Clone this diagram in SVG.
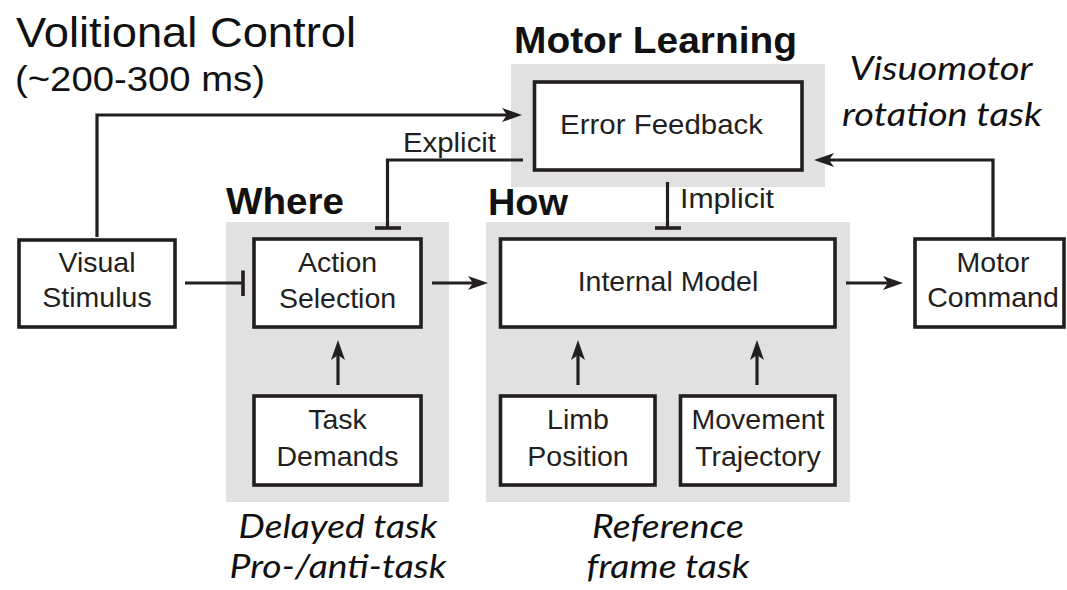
<svg xmlns="http://www.w3.org/2000/svg" width="1067" height="590" viewBox="0 0 1067 590">
  <style>
    .panel { fill: #e1e1e1; stroke: none; }
    .box { fill: #ffffff; stroke: #231f20; stroke-width: 3.6; }
    .lbl { font-family: "Liberation Sans", Arial, Helvetica, sans-serif; font-size: 28.5px; fill: #231f20; text-anchor: middle; }
    .small { font-family: "Liberation Sans", Arial, Helvetica, sans-serif; font-size: 27px; fill: #231f20; }
    .head { font-family: "Liberation Sans", Arial, Helvetica, sans-serif; font-size: 36px; font-weight: bold; fill: #111111; }
    .title { font-family: "Liberation Sans", Arial, Helvetica, sans-serif; fill: #111111; }
    .task { font-family: Lato, "Liberation Sans", sans-serif; font-style: italic; font-size: 33px; fill: #111111; text-anchor: middle; }
    .wire { fill: none; stroke: #231f20; stroke-width: 3.2; }
    .arrow { marker-end: url(#head); }
    .bar { fill: none; stroke: #231f20; stroke-width: 3.6; }
  </style>
  <defs>
    <marker id="head" markerUnits="userSpaceOnUse" viewBox="0 -8 21 16" markerWidth="21" markerHeight="16" refX="12" refY="0" orient="auto">
      <path d="M20,0 L0,-7 L5,0 L0,7 Z" fill="#231f20"/>
    </marker>
  </defs>

  <rect width="1067" height="590" fill="#ffffff"/>

  <!-- headings -->
  <g id="title">
    <text class="title" x="16" y="47" font-size="42" textLength="340" lengthAdjust="spacingAndGlyphs">Volitional Control</text>
    <text class="title" x="15" y="91" font-size="35" textLength="250" lengthAdjust="spacingAndGlyphs">(~200-300 ms)</text>
  </g>

  <!-- grey stage panels -->
  <g id="motor-learning">
    <rect class="panel" x="511" y="64" width="314" height="123"/>
    <text class="head" x="514" y="53" textLength="283" lengthAdjust="spacingAndGlyphs">Motor Learning</text>
  </g>
  <g id="where">
    <rect class="panel" x="226" y="222" width="223" height="280"/>
    <text class="head" x="226" y="214" textLength="118" lengthAdjust="spacingAndGlyphs">Where</text>
  </g>
  <g id="how">
    <rect class="panel" x="486" y="222" width="364" height="280"/>
    <text class="head" x="488" y="215" textLength="80" lengthAdjust="spacingAndGlyphs">How</text>
  </g>

  <!-- task annotations -->
  <g id="task-visuomotor">
    <text class="task" x="941" y="80" textLength="183" lengthAdjust="spacingAndGlyphs">Visuomotor</text>
    <text class="task" x="942" y="126" textLength="200" lengthAdjust="spacingAndGlyphs">rotation task</text>
  </g>
  <g id="task-delayed">
    <text class="task" x="338" y="538" textLength="199" lengthAdjust="spacingAndGlyphs">Delayed task</text>
    <text class="task" x="338" y="578" textLength="217" lengthAdjust="spacingAndGlyphs">Pro-/anti-task</text>
  </g>
  <g id="task-reference">
    <text class="task" x="668" y="538" textLength="152" lengthAdjust="spacingAndGlyphs">Reference</text>
    <text class="task" x="668" y="578" textLength="163" lengthAdjust="spacingAndGlyphs">frame task</text>
  </g>

  <!-- connectors -->
  <g id="connectors">
    <path class="wire arrow" d="M97,237 V115 H514"/>
    <path class="wire" d="M523,160 H387.5 V228"/>
    <path class="bar" d="M375,228 H401"/>
    <text class="small" x="403" y="152" textLength="93" lengthAdjust="spacingAndGlyphs">Explicit</text>
    <path class="wire" d="M667.5,182 V228"/>
    <path class="bar" d="M655,228 H681"/>
    <text class="small" x="680" y="208" textLength="94" lengthAdjust="spacingAndGlyphs">Implicit</text>
    <path class="wire" d="M185,283 H243"/>
    <path class="bar" d="M243,270.5 V296"/>
    <path class="wire arrow" d="M432,283 H480"/>
    <path class="wire arrow" d="M846,283 H895"/>
    <path class="wire arrow" d="M993,237 V160 H822"/>
    <path class="wire arrow" d="M338,385 V348"/>
    <path class="wire arrow" d="M578,385 V348"/>
    <path class="wire arrow" d="M757,385 V348"/>
  </g>

  <!-- boxes -->
  <g id="error-feedback">
    <rect class="box" x="534.5" y="82" width="267.5" height="88"/>
    <text class="lbl" x="661.5" y="134" textLength="203" lengthAdjust="spacingAndGlyphs">Error Feedback</text>
  </g>
  <g id="visual-stimulus">
    <rect class="box" x="19" y="240" width="156" height="87"/>
    <text class="lbl" x="97" y="272">Visual</text>
    <text class="lbl" x="97" y="307">Stimulus</text>
  </g>
  <g id="action-selection">
    <rect class="box" x="254" y="239" width="167" height="88"/>
    <text class="lbl" x="337.5" y="272">Action</text>
    <text class="lbl" x="337.5" y="308">Selection</text>
  </g>
  <g id="task-demands">
    <rect class="box" x="254" y="396" width="167" height="89"/>
    <text class="lbl" x="337.5" y="429">Task</text>
    <text class="lbl" x="337.5" y="466">Demands</text>
  </g>
  <g id="internal-model">
    <rect class="box" x="500.5" y="239" width="334.5" height="88"/>
    <text class="lbl" x="668" y="291">Internal Model</text>
  </g>
  <g id="limb-position">
    <rect class="box" x="500.5" y="396" width="154.5" height="89"/>
    <text class="lbl" x="578" y="429">Limb</text>
    <text class="lbl" x="578" y="466">Position</text>
  </g>
  <g id="movement-trajectory">
    <rect class="box" x="680.5" y="396" width="154.5" height="89"/>
    <text class="lbl" x="758" y="429">Movement</text>
    <text class="lbl" x="758" y="466">Trajectory</text>
  </g>
  <g id="motor-command">
    <rect class="box" x="915" y="239" width="149" height="88"/>
    <text class="lbl" x="993" y="272">Motor</text>
    <text class="lbl" x="993" y="307">Command</text>
  </g>
</svg>
